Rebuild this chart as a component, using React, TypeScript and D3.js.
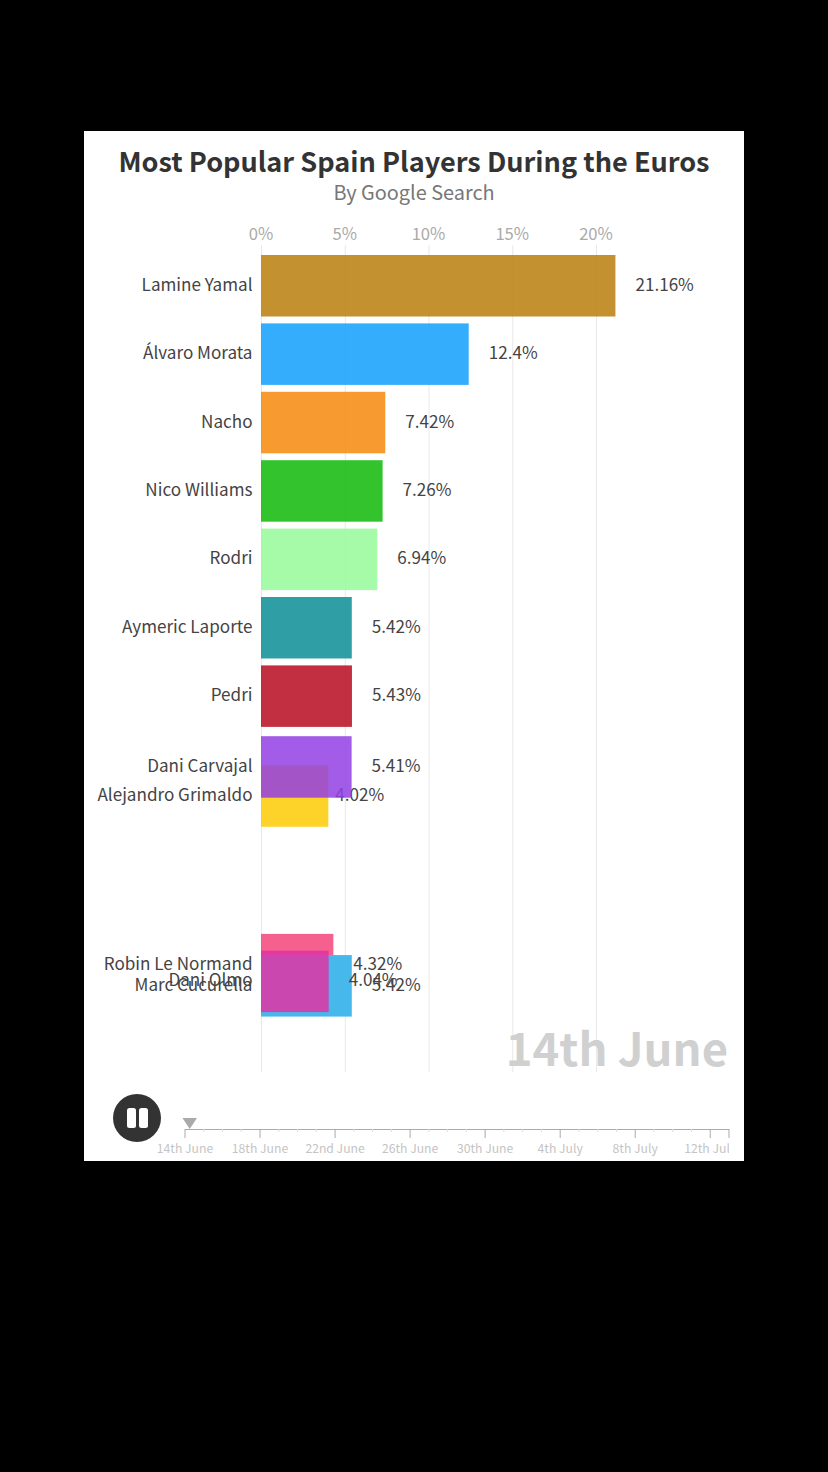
import React from "react";
import * as d3 from "d3";

const players = ["Robin Le Normand","Marc Cucurella","Dani Olmo","Alejandro Grimaldo","Dani Carvajal","Pedri","Aymeric Laporte","Rodri","Nico Williams","Nacho","Álvaro Morata","Lamine Yamal"];
const shares = [4.32,5.42,4.04,4.02,5.41,5.43,5.42,6.94,7.26,7.42,12.4,21.16];
const labels = ["4.32%","5.42%","4.04%","4.02%","5.41%","5.43%","5.42%","6.94%","7.26%","7.42%","12.4%","21.16%"];
const ranks = [9.925,10.235,10.17,7.46,7.035,6,5,4,3,2,1,0];
const colors = ["#f3447b","#47b8ec","#e032a4","#fdca04","#9340e4","#b70b1e","#0a8e95","#95fa98","#0fba08","#f6880a","#119ffd","#ba7e0c"];
const axisTicks = [0,5,10,15,20];
const dateLabels = ["14th June","18th June","22nd June","26th June","30th June","4th July","8th July","12th July"];
const totalDays = 29;

const font = "'Noto Sans CJK SC','Noto Sans',sans-serif";

export default function App() {
  const x = d3.scaleLinear().domain([0, 20]).range([261, 596]);
  const y = d3.scaleLinear().domain([0, 1]).range([255, 323.4]);
  const t = d3.scaleLinear().domain([0, totalDays]).range([185, 729]);
  const barH = 61.5;
  const days = d3.range(0, totalDays + 1);
  return (
    <svg width={828} height={1472} style={{ position: "fixed", left: 0, top: 0, fontFamily: font }}>
      <rect width={828} height={1472} fill="#000" />
      <rect x={84} y={131} width={660} height={1030} fill="#fff" />
      <text x={414} y={172} textAnchor="middle" fontSize={27.1} fontWeight={700} fill="#333">Most Popular Spain Players During the Euros</text>
      <text x={414} y={200} textAnchor="middle" fontSize={19.9} fill="#777">By Google Search</text>
      {axisTicks.map((d) => (
        <g key={d}>
          <line x1={x(d)+0.5} x2={x(d)+0.5} y1={245} y2={1072} stroke="#e8e8e8" strokeWidth={1} />
          <text x={x(d)} y={240} textAnchor="middle" fontSize={16.6} fill="#aaa">{d}%</text>
        </g>
      ))}
      <text x={728} y={1066} textAnchor="end" fontSize={45.4} fontWeight={700} fill="#d0d0d0">14th June</text>
      {players.map((p, i) => (
        <g key={p} fontSize={17.1} fill="#444">
          <rect x={x(0)} y={y(ranks[i])} width={x(shares[i]) - x(0)} height={barH} fill={colors[i]} fillOpacity={p === "Marc Cucurella" ? 1 : 0.85} />
          <text x={252.5} y={y(ranks[i]) + barH / 2 + 5} textAnchor="end">{p}</text>
          <text x={x(shares[i]) + (p === "Alejandro Grimaldo" ? 7 : 20)} y={y(ranks[i]) + barH / 2 + 5}>{labels[i]}</text>
        </g>
      ))}
      <circle cx={137} cy={1118} r={24} fill="#333" />
      <rect x={127} y={1108} width={9} height={20} rx={2.5} fill="#fff" />
      <rect x={139} y={1108} width={9} height={20} rx={2.5} fill="#fff" />
      <path d={d3.line()([[182.5, 1118], [197, 1118], [189.7, 1129]]) + "Z"} fill="#aaa" />
      <line x1={t(0)} x2={t(totalDays)} y1={1129.5} y2={1129.5} stroke="#aaa" />
      {days.map((d) => {
        const major = d % 4 === 0 || d === totalDays;
        return <line key={d} x1={t(d)} x2={t(d)} y1={1129} y2={major ? 1138 : 1132} stroke={major ? "#aaa" : "#ddd"} />;
      })}
      <svg x={84} y={1130} width={645} height={31} overflow="hidden">
        {dateLabels.map((l, i) => (
          <text key={l} x={t(i * 4) - 84} y={23} textAnchor="middle" fontSize={12.2} fill="#c4c4c4">{l}</text>
        ))}
      </svg>
    </svg>
  );
}
